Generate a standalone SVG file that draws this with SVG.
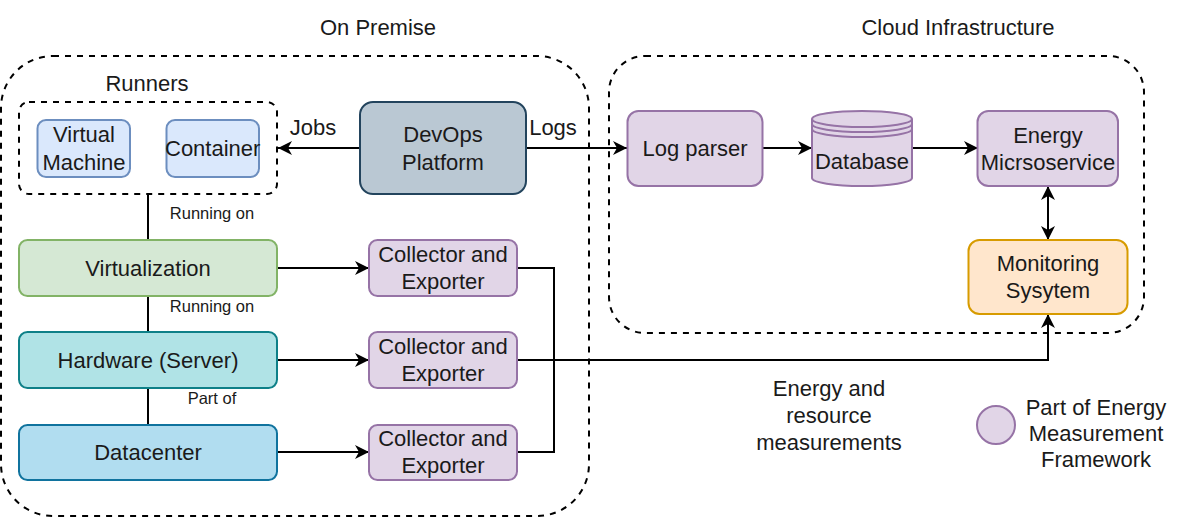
<svg xmlns="http://www.w3.org/2000/svg" width="1200" height="518" viewBox="0 0 1200 518">
<style>
text{font-family:"Liberation Sans",Arial,sans-serif;font-size:22px;fill:#1a1a1a;text-anchor:middle}
.sm{font-size:16.5px}
.box{stroke-width:2}
.purple{fill:#e1d5e7;stroke:#9673a6;stroke-width:2}
.dash{fill:none;stroke:#000;stroke-width:2;stroke-dasharray:6 6}
.ln{fill:none;stroke:#000;stroke-width:2}
</style>
<defs>
<marker id="arr" viewBox="0 0 14 14" refX="14" refY="7" markerWidth="14" markerHeight="14" markerUnits="userSpaceOnUse" orient="auto-start-reverse">
<path d="M0,0 L14,7 L0,14 L4,7 Z" fill="#000"/>
</marker>
</defs>

<g id="containers">
<rect x="1" y="56" width="588" height="460" rx="52" class="dash"/>
<text x="378" y="35">On Premise</text>
<rect x="609" y="56" width="535" height="277" rx="36" class="dash"/>
<text x="958" y="35">Cloud Infrastructure</text>
</g>

<g id="connectors">
<path class="ln" d="M148,194 V240"/>
<path class="ln" d="M148,296 V332"/>
<path class="ln" d="M148,388 V425"/>
<path class="ln" d="M360,148 H278" marker-end="url(#arr)"/>
<path class="ln" d="M526,148 H627" marker-end="url(#arr)"/>
<path class="ln" d="M277,268 H369" marker-end="url(#arr)"/>
<path class="ln" d="M277,360 H369" marker-end="url(#arr)"/>
<path class="ln" d="M277,452 H369" marker-end="url(#arr)"/>
<path class="ln" d="M517,268 H554 V452 H517"/>
<path class="ln" d="M517,360 H1048 V314" marker-end="url(#arr)"/>
<path class="ln" d="M762,148 H812" marker-end="url(#arr)"/>
<path class="ln" d="M912,148 H978" marker-end="url(#arr)"/>
<path class="ln" d="M1048,186 V240" marker-start="url(#arr)" marker-end="url(#arr)"/>
<text class="sm" x="212" y="219">Running on</text>
<text class="sm" x="212" y="312">Running on</text>
<text class="sm" x="212" y="404">Part of</text>
<text x="313" y="135">Jobs</text>
<text x="553" y="135">Logs</text>
<text x="829" y="396">Energy and</text>
<text x="829" y="423">resource</text>
<text x="829" y="450">measurements</text>
</g>

<g id="runners">
<rect x="19" y="102" width="258" height="92" rx="10" class="dash"/>
<text x="147" y="91">Runners</text>
</g>
<g id="virtual-machine">
<rect x="37.5" y="120" width="92.5" height="57" rx="8.5" fill="#dae8fc" stroke="#6c8ebf" class="box"/>
<text x="84" y="142">Virtual</text>
<text x="84" y="170">Machine</text>
</g>
<g id="container">
<rect x="166.5" y="120" width="92.5" height="57" rx="8.5" fill="#dae8fc" stroke="#6c8ebf" class="box"/>
<text x="212.7" y="156">Container</text>
</g>
<g id="devops">
<rect x="360" y="102" width="166" height="92" rx="13" fill="#bac8d3" stroke="#23445d" class="box"/>
<text x="443" y="142">DevOps</text>
<text x="443" y="170">Platform</text>
</g>
<g id="virtualization">
<rect x="19" y="240" width="258" height="56" rx="8.4" fill="#d5e8d4" stroke="#82b366" class="box"/>
<text x="148" y="276">Virtualization</text>
</g>
<g id="hardware">
<rect x="19" y="332" width="258" height="56" rx="8.4" fill="#b0e3e6" stroke="#0e8088" class="box"/>
<text x="148" y="368">Hardware (Server)</text>
</g>
<g id="datacenter">
<rect x="19" y="425" width="258" height="55" rx="8.4" fill="#b1ddf0" stroke="#10739e" class="box"/>
<text x="148" y="460">Datacenter</text>
</g>
<g id="collector-1">
<rect x="369" y="240" width="148" height="56" rx="8.4" class="purple"/>
<text x="443" y="262">Collector and</text>
<text x="443" y="289">Exporter</text>
</g>
<g id="collector-2">
<rect x="369" y="332" width="148" height="56" rx="8.4" class="purple"/>
<text x="443" y="354">Collector and</text>
<text x="443" y="381">Exporter</text>
</g>
<g id="collector-3">
<rect x="369" y="425" width="148" height="55" rx="8.4" class="purple"/>
<text x="443" y="446">Collector and</text>
<text x="443" y="473">Exporter</text>
</g>
<g id="log-parser">
<rect x="627.5" y="111" width="135" height="75" rx="11" class="purple"/>
<text x="695" y="156">Log parser</text>
</g>
<g id="database">
<path class="purple" d="M812,119 A50,8 0 0 1 912,119 V178 A50,8 0 0 1 812,178 Z"/>
<path fill="none" stroke="#9673a6" stroke-width="2" d="M812,119 A50,8 0 0 0 912,119 M812,124 A50,8 0 0 0 912,124 M812,129 A50,8 0 0 0 912,129"/>
<text x="862" y="169">Database</text>
</g>
<g id="energy-microservice">
<rect x="977.5" y="111" width="140.5" height="75" rx="11" class="purple"/>
<text x="1048" y="143">Energy</text>
<text x="1048" y="170">Micrsoservice</text>
</g>
<g id="monitoring">
<rect x="968.5" y="240" width="159" height="74" rx="11" fill="#ffe6cc" stroke="#d79b00" class="box"/>
<text x="1048" y="271">Monitoring</text>
<text x="1048" y="298">Sysytem</text>
</g>
<g id="legend">
<circle cx="996" cy="425" r="19" class="purple"/>
<text x="1096" y="415">Part of Energy</text>
<text x="1096" y="441">Measurement</text>
<text x="1096" y="467">Framework</text>
</g>
</svg>
